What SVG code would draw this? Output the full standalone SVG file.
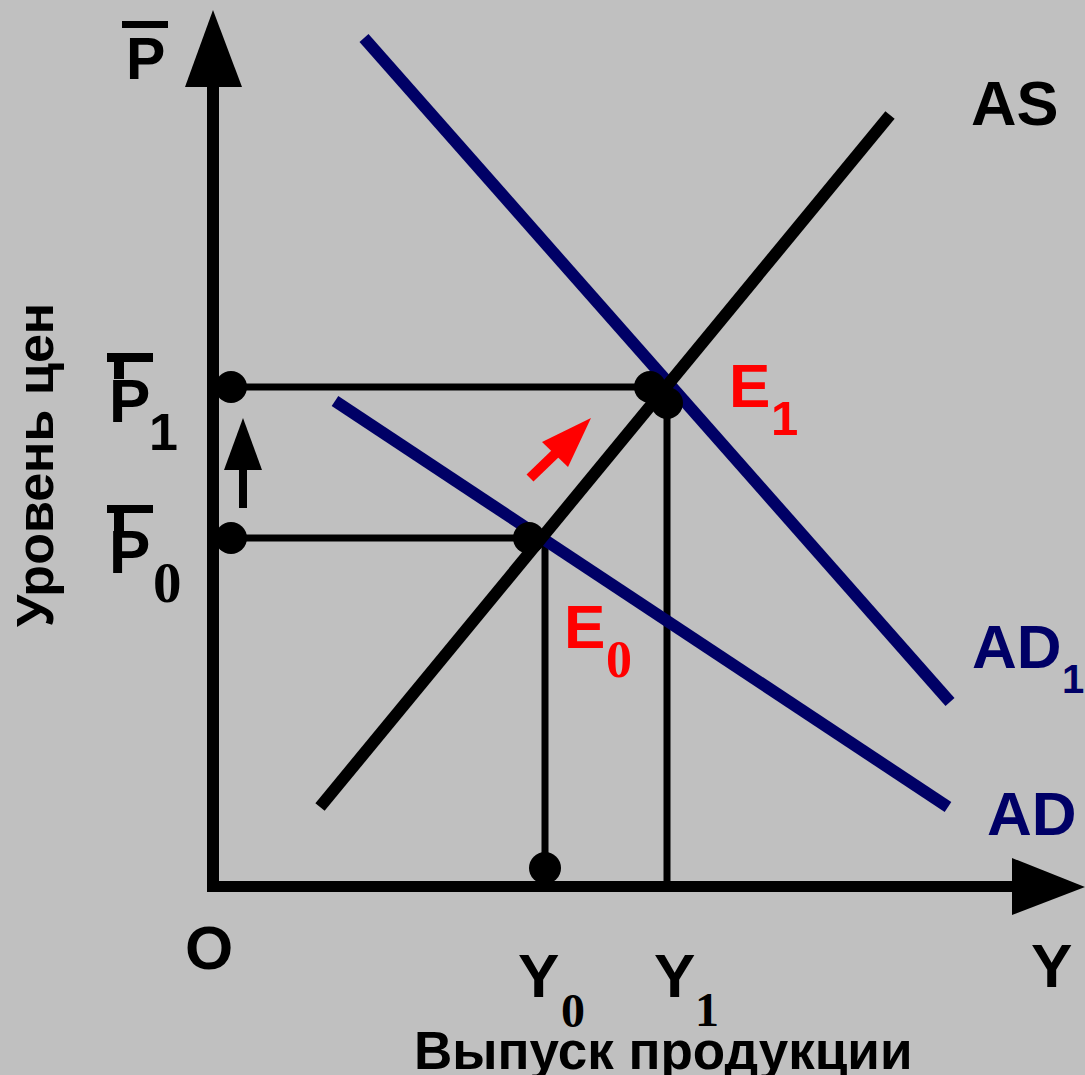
<svg xmlns="http://www.w3.org/2000/svg" width="1085" height="1075" viewBox="0 0 1085 1075">
<style>
.t{font-family:"Liberation Sans",Arial,sans-serif;font-weight:bold;}
.s{font-family:"Liberation Serif","Times New Roman",serif;font-weight:bold;}
.k{fill:#000;}
.r{fill:#FF0000;}
.n{fill:#000066;}
.thin{stroke:#000;stroke-width:7;fill:none;}
</style>
<rect width="1085" height="1075" fill="#C0C0C0"/>
<g id="connectors">
  <line class="thin" x1="231" y1="387" x2="650" y2="387"/>
  <line class="thin" x1="231" y1="538" x2="545" y2="538"/>
  <line class="thin" x1="545" y1="538" x2="545" y2="868"/>
  <line class="thin" x1="667" y1="403" x2="667" y2="886"/>
  <line x1="335" y1="401" x2="948" y2="807" stroke="#000066" stroke-width="12"/>
  <line x1="364" y1="38" x2="950" y2="702" stroke="#000066" stroke-width="12"/>
  <line x1="320" y1="807" x2="890" y2="115" stroke="#000" stroke-width="12"/>
  <line x1="530" y1="478" x2="557" y2="452" stroke="#FF0000" stroke-width="10"/>
  <polygon points="591,418 542,442 568,467" fill="#FF0000"/>
  <line x1="243" y1="508" x2="243" y2="466" stroke="#000" stroke-width="8"/>
  <polygon points="243,418 224,470 262,470" fill="#000"/>
</g>
<g id="axes">
  <rect x="207" y="80" width="12" height="812" fill="#000"/>
  <polygon points="213,10 185,87 242,87" fill="#000"/>
  <rect x="213" y="881" width="805" height="11" fill="#000"/>
  <polygon points="1085,887 1012,858 1012,915" fill="#000"/>
</g>
<g id="points">
  <circle cx="231" cy="387" r="16" fill="#000"/>
  <circle cx="231" cy="538" r="16" fill="#000"/>
  <circle cx="529" cy="538" r="16" fill="#000"/>
  <circle cx="650" cy="387" r="16" fill="#000"/>
  <circle cx="667" cy="403" r="16" fill="#000"/>
  <circle cx="545" cy="868" r="16" fill="#000"/>
</g>
<g id="label-P">
  <rect x="122" y="21" width="46" height="7" fill="#000"/>
  <text class="t k" x="126" y="79" font-size="59">P</text>
</g>
<g id="label-P1">
  <rect x="107" y="353" width="46" height="9" fill="#000"/>
  <rect x="114" y="353" width="10" height="26" fill="#000"/>
  <text class="t k" x="109" y="422" font-size="62">P</text>
  <text class="t k" x="149" y="450" font-size="52">1</text>
</g>
<g id="label-P0">
  <rect x="107" y="505" width="46" height="8" fill="#000"/>
  <rect x="114" y="505" width="10" height="27" fill="#000"/>
  <text class="t k" x="109" y="573" font-size="62">P</text>
  <text class="s k" x="153" y="602" font-size="57">0</text>
</g>
<g id="label-ylabel">
  <text class="t k" font-size="52" transform="translate(53,627) rotate(-90)">Уровень цен</text>
</g>
<g id="label-AS"><text class="t k" x="971" y="125" font-size="63">AS</text></g>
<g id="label-AD1">
  <text class="t n" x="972" y="668" font-size="62">AD</text>
  <text class="t n" x="1062" y="693" font-size="40">1</text>
</g>
<g id="label-AD"><text class="t n" x="987" y="835" font-size="62">AD</text></g>
<g id="label-E1">
  <text class="t r" x="729" y="407" font-size="62">E</text>
  <text class="t r" x="771" y="435" font-size="49">1</text>
</g>
<g id="label-E0">
  <text class="t r" x="564" y="648" font-size="62">E</text>
  <text class="s r" x="606" y="677" font-size="52">0</text>
</g>
<g id="label-O"><text class="t k" x="185" y="969" font-size="62">O</text></g>
<g id="label-Y"><text class="t k" x="1031" y="987" font-size="62">Y</text></g>
<g id="label-Y0">
  <text class="t k" x="518" y="997" font-size="62">Y</text>
  <text class="s k" x="561" y="1027" font-size="48">0</text>
</g>
<g id="label-Y1">
  <text class="t k" x="654" y="997" font-size="62">Y</text>
  <text class="s k" x="695" y="1026" font-size="48">1</text>
</g>
<g id="label-xlabel"><text class="t k" x="414" y="1069" font-size="53">Выпуск продукции</text></g>
</svg>
